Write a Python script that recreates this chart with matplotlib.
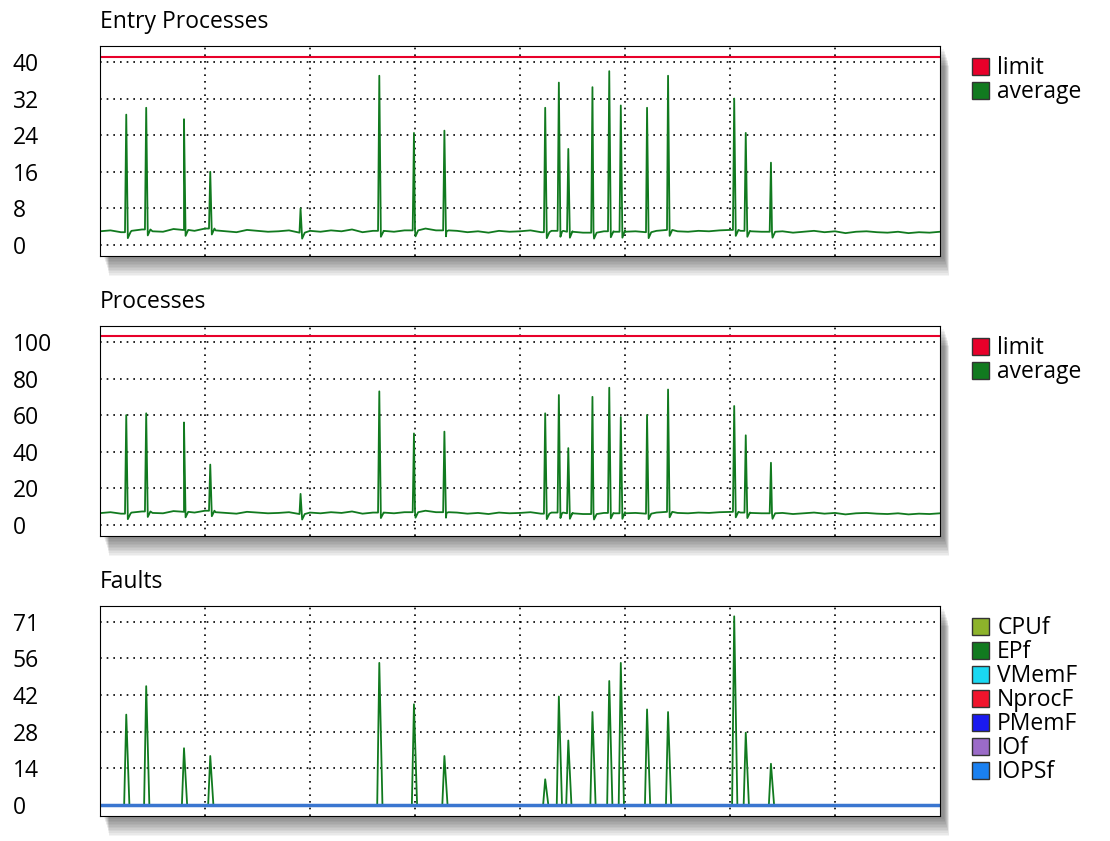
import numpy as np
import matplotlib
matplotlib.use("Agg")
from matplotlib import pyplot as plt
from matplotlib.patches import Rectangle

plt.rcParams['font.family'] = ['Open Sans', 'DejaVu Sans']

# time axis: 0..8 (eight grid intervals)
spike_t = [0.25, 0.44, 0.80, 1.05, 1.91, 2.66, 2.99, 3.28, 4.24, 4.37, 4.46,
           4.69, 4.85, 4.96, 5.21, 5.41, 6.04, 6.15, 6.39]
ep_spikes = [28.5, 30, 27.5, 16, 8, 37, 24.5, 25, 30, 35.5, 21, 34.5, 38, 30.5, 30, 37, 32, 24.5, 18]
proc_spikes = [60, 61, 56, 33, 17, 73, 50, 51, 61, 71, 42, 70, 75, 59, 60, 74, 65, 49, 34]
fault_spikes = [35, 46, 22, 19, 0, 55, 39, 19, 10, 42, 25, 36, 48, 55, 37, 36, 73, 28, 16]

# baseline read every 0.1 of a grid interval
ep_base = [3.0, 3.2, 2.8, 3.1, 3.4, 3.0, 2.9, 3.5, 3.3, 3.1, 3.6, 3.2, 3.0, 2.8, 3.3,
           3.1, 2.9, 3.0, 3.2, 2.7, 3.1, 2.9, 3.2, 3.0, 3.4, 2.8, 3.1, 3.0, 2.9, 3.2,
           3.3, 3.6, 3.2, 3.0, 3.1, 2.8, 3.0, 2.7, 3.1, 2.9, 3.0, 3.2, 2.8, 3.1, 2.9,
           3.0, 2.7, 3.1, 3.0, 2.9, 3.2, 3.0, 2.8, 3.1, 3.3, 3.0, 2.9, 3.1, 3.0, 3.2,
           3.3, 3.1, 3.0, 2.9, 2.8, 3.0, 2.7, 2.9, 3.1, 2.8, 3.0, 2.6, 2.9, 3.0, 2.8,
           2.7, 2.9, 2.6, 2.8, 2.7, 2.9]
proc_base = [6.5, 7.0, 6.2, 6.8, 7.4, 6.6, 6.4, 7.6, 7.2, 6.8, 7.8, 7.0, 6.6, 6.2, 7.2,
             6.8, 6.4, 6.6, 7.0, 6.0, 6.8, 6.4, 7.0, 6.6, 7.4, 6.2, 6.8, 6.6, 6.4, 7.0,
             7.2, 7.8, 7.0, 6.6, 6.8, 6.2, 6.6, 6.0, 6.8, 6.4, 6.6, 7.0, 6.2, 6.8, 6.4,
             6.6, 6.0, 6.8, 6.6, 6.4, 7.0, 6.6, 6.2, 6.8, 7.2, 6.6, 6.4, 6.8, 6.6, 7.0,
             7.2, 6.8, 6.6, 6.4, 6.2, 6.6, 6.0, 6.4, 6.8, 6.2, 6.6, 5.8, 6.4, 6.6, 6.2,
             6.0, 6.4, 5.8, 6.2, 6.0, 6.4]
ep_limit = 41
proc_limit = 103

GREEN = '#117a1f'
RED = '#e8002a'
fault_names = ['CPUf', 'EPf', 'VMemF', 'NprocF', 'PMemF', 'IOf', 'IOPSf']
fault_colors = ['#8db32b', '#117a1f', '#1ad8f2', '#f0142c', '#1a1af0', '#9b6bc8', '#1a80f0']
FS = 16.5


def series(base, spikes, dip):
    xs = list(np.arange(len(base)) * 0.1)
    ys = list(base)
    for t, h in zip(spike_t, spikes):
        i = int(t * 10)
        xs += [t - 0.012, t, t + 0.015, t + 0.04]
        ys += [base[i], h, base[i] - dip, base[i]]
    order = np.argsort(xs, kind='stable')
    return np.array(xs)[order], np.array(ys)[order]


fig = plt.figure(figsize=(11.1, 8.41), dpi=100)
L, W, H = 100 / 1110, 840 / 1110, 210 / 841
bottoms = [1 - 256 / 841, 1 - 536 / 841, 1 - 816 / 841]


def shadow(b):
    for k in range(12):
        fig.patches.append(Rectangle((L + 0.004 + k * 0.0004, b - 0.004 - k * 0.0018),
                                     W, H, transform=fig.transFigure,
                                     color='black', alpha=0.045, zorder=0, lw=0))


def setup(ax, title, ticks, labels, ylim):
    ax.set_zorder(2)
    ax.set_facecolor('white')
    ax.set_xlim(0, 8)
    ax.set_ylim(*ylim)
    ax.set_xticks(range(1, 8))
    ax.set_xticklabels([])
    ax.tick_params(axis='x', length=0)
    ax.set_yticks(ticks)
    ax.set_yticklabels(labels, fontsize=FS)
    ax.tick_params(axis='y', length=0, pad=63)
    for lab in ax.get_yticklabels():
        lab.set_horizontalalignment('left')
    ax.grid(True, color='black', linestyle=(0, (1, 3)), lw=1.2)
    for s in ax.spines.values():
        s.set_linewidth(0.8)
    ax.text(0, 1.055, title, transform=ax.transAxes, fontsize=FS, va='bottom')


def legend(ax, names, colors):
    handles = [Rectangle((0, 0), 1, 1, fc=c, ec='#333333', lw=1) for c in colors]
    ax.legend(handles, names, loc='upper left', bbox_to_anchor=(1.038, 0.95),
              frameon=False, fontsize=FS, handlelength=0.75, handleheight=0.75,
              handletextpad=0.35, labelspacing=0.0, borderaxespad=0, borderpad=0)


for b in bottoms:
    shadow(b)

ax1 = fig.add_axes([L, bottoms[0], W, H])
x, y = series(ep_base, ep_spikes, 1.3)
ax1.axhline(ep_limit, color=RED, lw=1.5)
ax1.plot(x, y, color=GREEN, lw=1.3)
setup(ax1, 'Entry Processes', [0, 8, 16, 24, 32, 40],
      ['0', '8', '16', '24', '32', '40'], (-2.4, 43.5))
legend(ax1, ['limit', 'average'], [RED, GREEN])

ax2 = fig.add_axes([L, bottoms[1], W, H])
x, y = series(proc_base, proc_spikes, 3)
ax2.axhline(proc_limit, color=RED, lw=1.5)
ax2.plot(x, y, color=GREEN, lw=1.3)
setup(ax2, 'Processes', [0, 20, 40, 60, 80, 100],
      ['0', '20', '40', '60', '80', '100'], (-6, 108.7))
legend(ax2, ['limit', 'average'], [RED, GREEN])

ax3 = fig.add_axes([L, bottoms[2], W, H])
fx = [0]
fy = [0]
for t, h in zip(spike_t, fault_spikes):
    fx += [t - 0.02, t, t + 0.03]
    fy += [0, h, 0]
fx.append(8)
fy.append(0)
ax3.plot(fx, fy, color=GREEN, lw=1.3)
ax3.axhline(0, color='#3a76d0', lw=2.5)
setup(ax3, 'Faults', [0, 14.2, 28.4, 42.6, 56.8, 71],
      ['0', '14', '28', '42', '56', '71'], (-4.2, 77))
legend(ax3, fault_names, fault_colors)

fig.savefig('out.png', dpi=100)
